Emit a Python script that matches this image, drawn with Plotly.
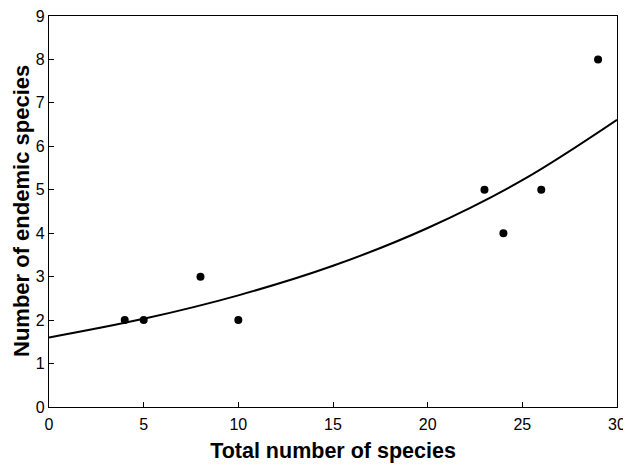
import plotly.graph_objects as go

# Observed data points
total_species = [4, 5, 8, 10, 23, 24, 26, 29]
endemic_species = [2, 2, 3, 2, 5, 4, 5, 8]

# Fitted curve, values
curve_x = [0, 5, 10, 15, 20, 25, 30]
curve_y = [1.60, 2.03, 2.57, 3.25, 4.12, 5.22, 6.61]

x_ticks = [0, 5, 10, 15, 20, 25, 30]
y_ticks = [0, 1, 2, 3, 4, 5, 6, 7, 8, 9]

FONT = "Liberation Sans, Arial"
L_MARGIN = 41

fig = go.Figure()
fig.add_trace(go.Scatter(x=curve_x, y=curve_y, mode="lines",
                         line=dict(color="black", width=2, shape="spline"),
                         showlegend=False, hoverinfo="skip"))
fig.add_trace(go.Scatter(x=total_species, y=endemic_species, mode="markers",
                         marker=dict(color="black", size=8),
                         showlegend=False))

axis_common = dict(showgrid=False, zeroline=False, showline=True, linecolor="black",
                   linewidth=1.2, mirror=True, ticks="inside", ticklen=5,
                   tickcolor="black", automargin=False, ticklabeloverflow="allow",
                   tickfont=dict(family=FONT, size=16, color="black"))

fig.update_xaxes(range=[0, 30], tickvals=x_ticks, ticklabelstandoff=3,
                 title=dict(text="<b>Total number of species</b>",
                            font=dict(family=FONT, size=21.5, color="black"),
                            standoff=10),
                 **axis_common)
fig.update_yaxes(range=[0, 9], tickvals=y_ticks, **axis_common)

fig.add_annotation(text="<b>Number of endemic species</b>", textangle=-90,
                   xref="paper", yref="paper", x=0, y=0.5,
                   xanchor="left", yanchor="middle", xshift=-L_MARGIN,
                   showarrow=False, borderpad=0,
                   font=dict(family=FONT, size=22, color="black"))

fig.update_layout(width=631, height=470, plot_bgcolor="white", paper_bgcolor="white",
                  margin=dict(l=L_MARGIN, r=22, t=8, b=71))

fig.write_html("out.html")
